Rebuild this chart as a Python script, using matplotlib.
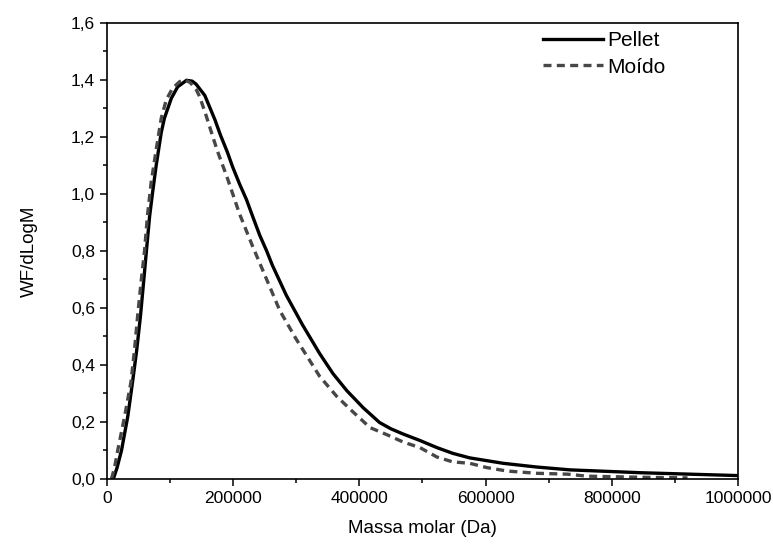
import numpy as np
import matplotlib.pyplot as plt
from matplotlib.ticker import MultipleLocator, FuncFormatter

# ── data (Da, WF/dLogM) ────────────────────────────────────────────────────
pellet_m = [10000, 16000, 23000, 33000, 40500, 47000, 53000, 58000, 62500,
            67500, 72000, 78000, 86000, 91000, 102000, 112000, 126000, 135000,
            141000, 155000, 171000, 180000, 191000, 199000, 210000, 221000,
            231000, 242000, 253000, 262000, 284000, 310000, 337000, 358000,
            380000, 406000, 432000, 450000, 469000, 496000, 523000, 548000,
            575000, 628000, 681000, 734000, 846000, 1000000]
pellet_w = [0.0, 0.04, 0.10, 0.22, 0.34, 0.45, 0.57, 0.69, 0.80,
            0.92, 1.00, 1.10, 1.215, 1.265, 1.335, 1.375, 1.398, 1.395,
            1.385, 1.345, 1.26, 1.205, 1.145, 1.095, 1.035, 0.98,
            0.92, 0.855, 0.80, 0.75, 0.645, 0.54, 0.44, 0.37,
            0.31, 0.25, 0.198, 0.176, 0.158, 0.135, 0.11, 0.09,
            0.074, 0.055, 0.042, 0.032, 0.022, 0.012]

moido_m = [7000, 12000, 17000, 28000, 38000, 43500, 48500, 54000, 59500,
           64000, 70000, 78000, 86000, 94000, 104000, 115000, 123000, 132000,
           141500, 147000, 157000, 167000, 175000, 190000, 210000, 231000,
           253000, 274000, 300000, 320000, 337000, 364000, 390000, 417000,
           444000, 469000, 496000, 523000, 548000, 575000, 602000, 634000,
           681000, 730000, 760000, 850000, 920000]
moido_w = [0.0, 0.04, 0.10, 0.22, 0.34, 0.45, 0.57, 0.69, 0.80,
           0.92, 1.04, 1.155, 1.265, 1.33, 1.37, 1.393, 1.40, 1.39,
           1.365, 1.34, 1.275, 1.205, 1.15, 1.06, 0.93, 0.815,
           0.70, 0.59, 0.49, 0.42, 0.36, 0.29, 0.235, 0.18,
           0.155, 0.13, 0.11, 0.077, 0.06, 0.055, 0.04, 0.028,
           0.02, 0.017, 0.01, 0.006, 0.004]

plt.rcParams.update({
    'font.family': ['Liberation Sans', 'DejaVu Sans'],
    'font.size': 12,
    'axes.linewidth': 1.2,
})

fig = plt.figure(figsize=(7.73, 5.48), dpi=100)
ax = fig.add_axes([0.1384, 0.1259, 0.8163, 0.8327])

ax.plot(pellet_m, pellet_w, '-', color='black', lw=2.4, label='Pellet')
ax.plot(moido_m, moido_w, '--', color='#474747', lw=2.4,
        dashes=(2.4, 1.6), label='Moído')

ax.set_xlim(0, 1000000)
ax.set_ylim(0, 1.6)
ax.xaxis.set_major_locator(MultipleLocator(200000))
ax.xaxis.set_minor_locator(MultipleLocator(100000))
ax.yaxis.set_major_locator(MultipleLocator(0.2))
ax.yaxis.set_minor_locator(MultipleLocator(0.1))
ax.xaxis.set_major_formatter(FuncFormatter(lambda v, p: f'{v:.0f}'))
ax.yaxis.set_major_formatter(FuncFormatter(lambda v, p: f'{v:.1f}'.replace('.', ',')))
ax.tick_params(which='major', direction='out', length=5, width=1.1,
               labelsize=12.5, top=False, right=False)
ax.tick_params(which='minor', direction='out', length=3, width=1.1,
               top=False, right=False)

ax.set_xlabel('Massa molar (Da)', fontsize=13.5, labelpad=10)
ax.set_ylabel('WF/dLogM', fontsize=13.5, labelpad=24)

ax.legend(loc='upper right', bbox_to_anchor=(0.915, 1.022), frameon=False,
          fontsize=15, handlelength=2.9, handletextpad=0.2, labelspacing=0.35)

fig.savefig('out.png', dpi=100)
